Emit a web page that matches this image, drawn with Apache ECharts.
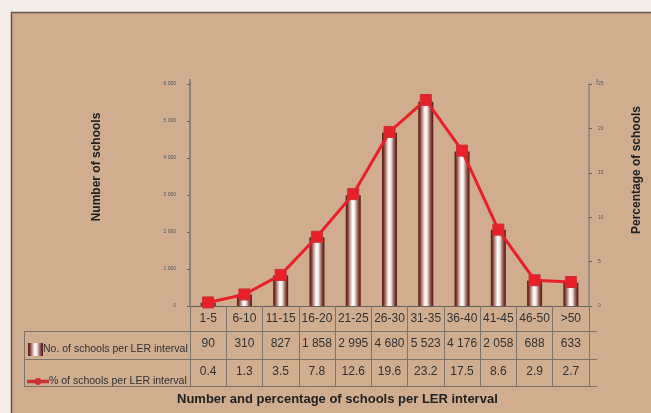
<!DOCTYPE html>
<html>
<head>
<meta charset="utf-8">
<script src="https://cdn.jsdelivr.net/npm/echarts@6/dist/echarts.min.js"></script>
<style>
html,body{margin:0;padding:0;background:#f5ede8;}
#c{width:651px;height:413px;}
</style>
</head>
<body>
<div id="c"></div>
<script>
const categories = ['1-5','6-10','11-15','16-20','21-25','26-30','31-35','36-40','41-45','46-50','>50'];
const schoolCounts = [90,310,827,1858,2995,4680,5523,4176,2058,688,633];
const schoolPercents = [0.4,1.3,3.5,7.8,12.6,19.6,23.2,17.5,8.6,2.9,2.7];
const countSeriesName = 'No. of schools per LER interval';
const percentSeriesName = '% of schools per LER interval';
const leftAxisName = 'Number of schools';
const rightAxisName = 'Percentage of schools';
const chartTitle = 'Number and percentage of schools per LER interval';

function fmt(n){ return String(n).replace(/\B(?=(\d{3})+(?!\d))/g, ' '); }

const GL = 190, GR = 597, GT = 84, GB = 306;
const ROW1 = GB + 25, ROW2 = GB + 53, ROW3 = GB + 80, TL = 24;
const lineCol = '#7d736b';
const font = '"Liberation Sans", Arial, sans-serif';

const barGrad = new echarts.graphic.LinearGradient(0,0,1,0,[
  {offset:0, color:'#561a14'},
  {offset:0.12, color:'#7a362c'},
  {offset:0.28, color:'#c49a90'},
  {offset:0.45, color:'#ffffff'},
  {offset:0.6, color:'#efe6e3'},
  {offset:0.76, color:'#a8766d'},
  {offset:0.9, color:'#70312a'},
  {offset:1, color:'#561a14'}
]);

const lineIcon = 'path://M0,4.3H20V5.7H0Z M12.4,5A2.4,2.4 0 1 0 7.6,5A2.4,2.4 0 1 0 12.4,5Z';

const chart = echarts.init(document.getElementById('c'), null, {renderer:'canvas'});
const hline = (y, x1, x2) => ({type:'line', z:-50, shape:{x1:x1,y1:y+0.5,x2:x2,y2:y+0.5}, style:{stroke:lineCol, lineWidth:1}});
const vline = (x, y1, y2, c) => ({type:'line', z:-50, shape:{x1:x,y1:y1,x2:x,y2:y2}, style:{stroke:c, lineWidth:1.5}});

chart.setOption({
  backgroundColor:'#f5ede8',
  animation:false,
  textStyle:{fontFamily:font},
  title:{text:chartTitle, left:177, top:393, padding:0,
    textStyle:{fontSize:13, fontWeight:'bold', color:'#222', fontFamily:font}},
  graphic:[
    {type:'rect', z:-100, shape:{x:11.5,y:12.5,width:660,height:420}, style:{fill:'#cfad8e', stroke:'#5c5650', lineWidth:1.5}},
    hline(ROW1, TL, GR), hline(ROW2, TL, GR), hline(ROW3, TL, GR),
    {type:'line', z:-50, shape:{x1:TL+0.5,y1:ROW1,x2:TL+0.5,y2:ROW3+1}, style:{stroke:lineCol, lineWidth:1}},
    vline(GL, GT-5, GT, '#7a7470'), vline(GR, GT-5, GT, '#8a8480')
  ],
  legend:[
    {data:[{name:countSeriesName, icon:'rect'}], left:28, top:343, padding:0, itemWidth:15, itemHeight:13, itemGap:0,
      textStyle:{fontSize:10.5, color:'#333', fontFamily:font, padding:[0,0,0,-5]}},
    {data:[{name:percentSeriesName, icon:lineIcon}], left:27, top:376, padding:0, itemWidth:20, itemHeight:5,
      textStyle:{fontSize:10.5, color:'#333', fontFamily:font, padding:[0,0,0,-4]}}
  ],
  grid:{left:GL, right:651-GR, top:GT, bottom:413-GB, containLabel:false},
  xAxis:[
    {type:'category', data:categories, position:'bottom', boundaryGap:true,
      axisLine:{show:true, lineStyle:{color:'#6a625c', width:1}},
      axisTick:{show:true, interval:0, length:80, lineStyle:{color:lineCol}},
      axisLabel:{interval:0, margin:7, fontSize:12, color:'#333', fontFamily:font},
      splitLine:{show:false}},
    {type:'category', data:categories, position:'bottom', boundaryGap:true,
      axisLine:{show:false}, axisTick:{show:false},
      axisLabel:{interval:0, margin:32, fontSize:12, color:'#333', fontFamily:font,
        formatter:(v,i)=>fmt(schoolCounts[i])}},
    {type:'category', data:categories, position:'bottom', boundaryGap:true,
      axisLine:{show:false}, axisTick:{show:false},
      axisLabel:{interval:0, margin:60, fontSize:12, color:'#333', fontFamily:font,
        formatter:(v,i)=>String(schoolPercents[i])}}
  ],
  yAxis:[
    {type:'value', min:0, max:6000, interval:1000, position:'left',
      name:leftAxisName, nameLocation:'middle', nameGap:87, nameRotate:90,
      nameTextStyle:{fontSize:12, fontWeight:'bold', color:'#222', fontFamily:font, padding:[0,0,0,56]},
      axisLine:{show:true, lineStyle:{color:'#7a7470', width:1.5}},
      axisTick:{show:true, length:3, lineStyle:{color:'#6a625c'}},
      axisLabel:{fontSize:5, color:'#555', margin:14, formatter:v=>fmt(v)},
      splitLine:{show:false}},
    {type:'value', min:0, max:25, interval:5, position:'right',
      name:rightAxisName, nameLocation:'middle', nameGap:42, nameRotate:90,
      nameTextStyle:{fontSize:12, fontWeight:'bold', color:'#222', fontFamily:font, padding:[0,0,0,50]},
      axisLine:{show:true, lineStyle:{color:'#8a8480', width:1.5}},
      axisTick:{show:true, length:3, lineStyle:{color:'#6a625c'}},
      axisLabel:{fontSize:5, color:'#555', margin:9},
      splitLine:{show:false}}
  ],
  series:[
    {name:countSeriesName, type:'bar', xAxisIndex:0, yAxisIndex:0, data:schoolCounts, barWidth:15,
      itemStyle:{color:barGrad}},
    {name:percentSeriesName, type:'line', xAxisIndex:0, yAxisIndex:1, data:schoolPercents,
      symbol:'rect', symbolSize:11, z:5,
      lineStyle:{color:'#ea1f2a', width:3},
      itemStyle:{color:'#e8202a', borderColor:'#c8303a', borderWidth:1}}
  ]
});
</script>
</body>
</html>
